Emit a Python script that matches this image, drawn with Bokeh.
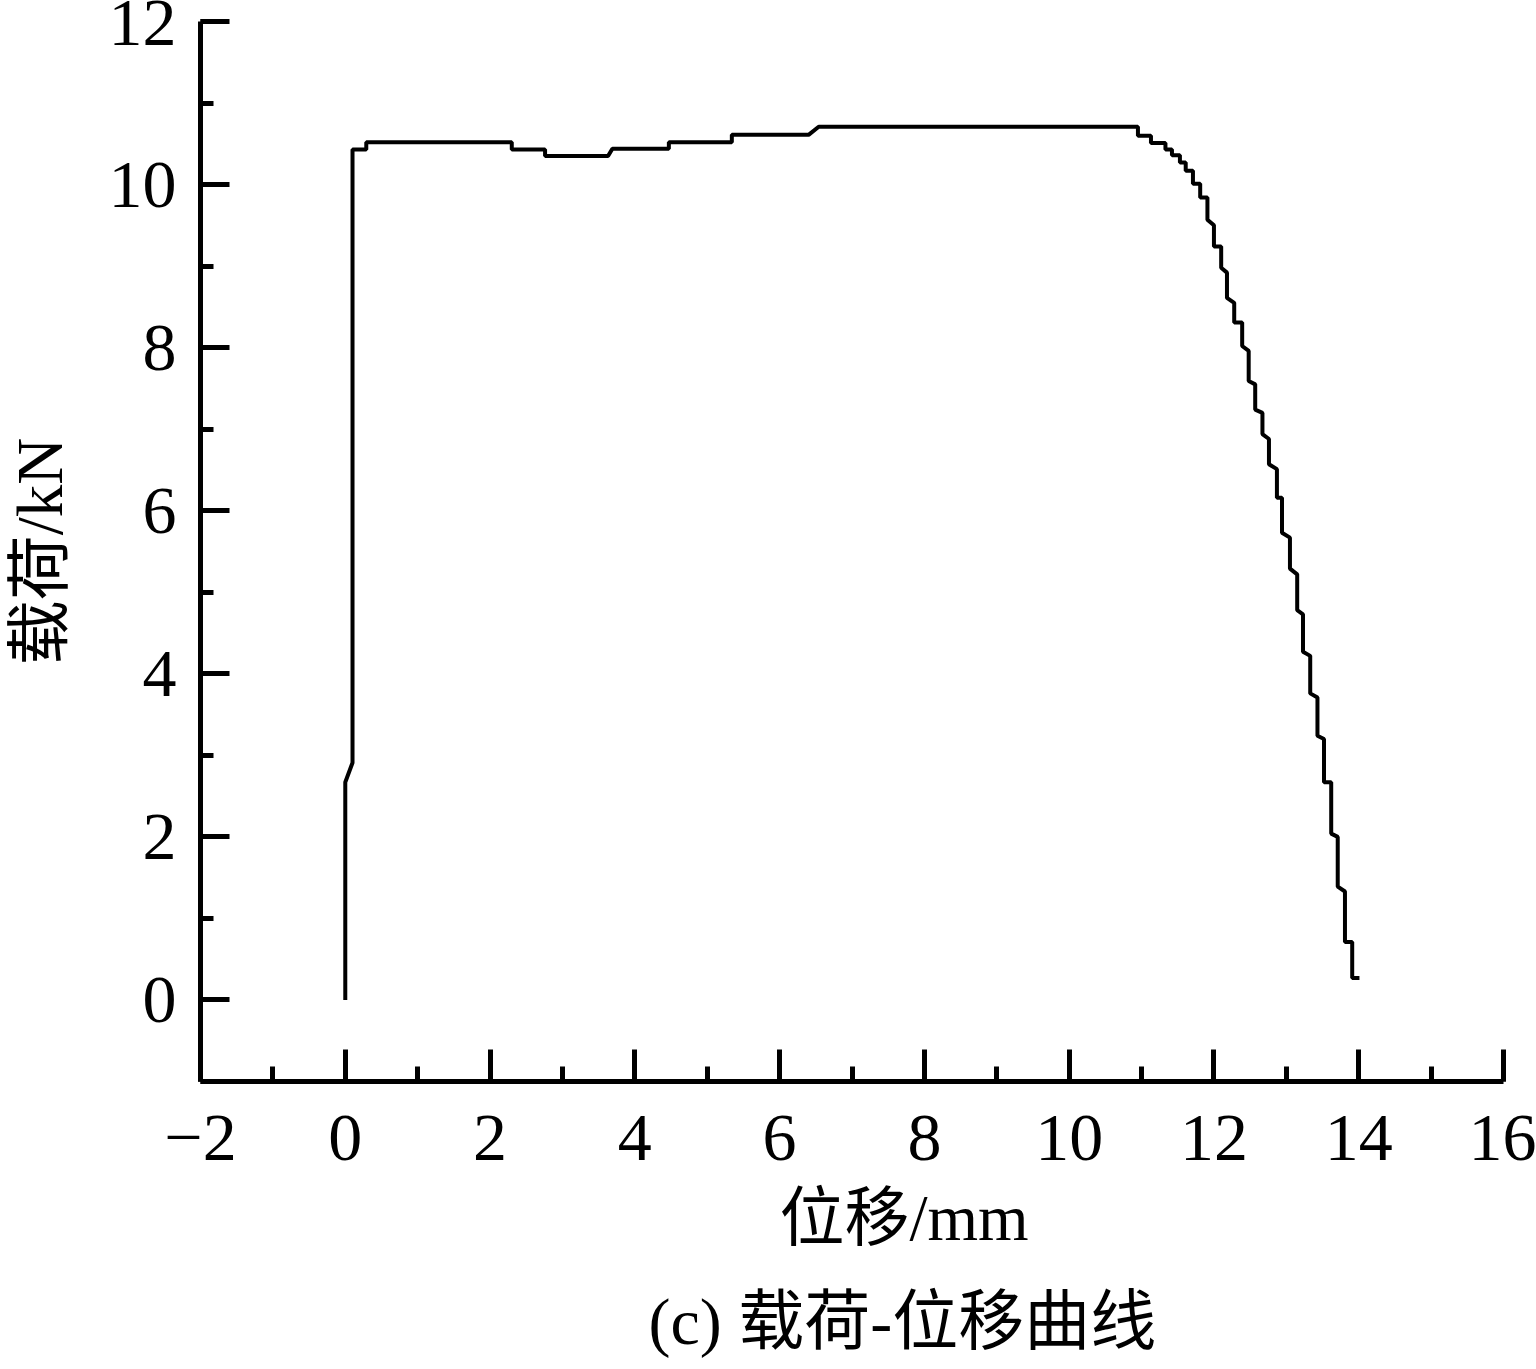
from bokeh.plotting import figure
from bokeh.models import SingleIntervalTicker, Range1d, Title
from bokeh.embed import file_html
from bokeh.resources import INLINE

# displacement (mm) and load (kN)
disp = [0.00, 0.00, 0.10, 0.10, 0.29, 0.29, 2.30, 2.30, 2.76, 2.76,
        3.63, 3.69, 4.47, 4.47, 5.34, 5.34, 6.40, 6.54, 10.95, 10.95,
        11.13, 11.13, 11.33, 11.33, 11.42, 11.42, 11.53, 11.53, 11.61, 11.61,
        11.71, 11.71, 11.81, 11.81, 11.91, 11.91, 12.00, 12.00, 12.10, 12.10,
        12.18, 12.18, 12.28, 12.28, 12.39, 12.39, 12.48, 12.48, 12.57, 12.57,
        12.67, 12.67, 12.76, 12.76, 12.87, 12.87, 12.94, 12.94, 13.05, 13.05,
        13.15, 13.15, 13.23, 13.23, 13.33, 13.33, 13.43, 13.43, 13.52, 13.52,
        13.62, 13.62, 13.71, 13.71, 13.81, 13.81, 13.91, 13.91, 14.01]
load = [0.00, 2.67, 2.91, 10.43, 10.43, 10.52, 10.52, 10.43, 10.43, 10.35,
        10.35, 10.44, 10.44, 10.52, 10.52, 10.61, 10.61, 10.71, 10.71, 10.60,
        10.60, 10.51, 10.51, 10.43, 10.43, 10.36, 10.36, 10.27, 10.27, 10.17,
        10.17, 10.01, 10.01, 9.84, 9.84, 9.57, 9.50, 9.24, 9.24, 8.98,
        8.92, 8.61, 8.55, 8.31, 8.31, 8.02, 7.96, 7.59, 7.55, 7.24,
        7.20, 6.94, 6.88, 6.57, 6.51, 6.16, 6.16, 5.73, 5.67, 5.29,
        5.22, 4.78, 4.73, 4.27, 4.22, 3.76, 3.71, 3.24, 3.20, 2.67,
        2.67, 2.04, 2.00, 1.39, 1.33, 0.71, 0.71, 0.27, 0.27]

x_title = "位移/mm"
y_title = "载荷/kN"
caption = "(c) 载荷-位移曲线"

FONT = "Liberation Serif, Noto Sans CJK SC"

p = figure(width=1536, height=1369,
           x_range=Range1d(-2, 16), y_range=Range1d(-1, 12),
           output_backend="svg", toolbar_location=None,
           min_border_left=199, min_border_right=33,
           min_border_top=21, min_border_bottom=287)

p.line(disp, load, line_color="black", line_width=4)

p.grid.visible = False
p.outline_line_color = None
p.background_fill_color = "white"
p.border_fill_color = "white"

xa = p.xaxis[0]
ya = p.yaxis[0]
xa.ticker = SingleIntervalTicker(interval=2, num_minor_ticks=2)
ya.ticker = SingleIntervalTicker(interval=2, num_minor_ticks=2)

for ax in (xa, ya):
    ax.axis_line_color = "black"
    ax.axis_line_width = 5
    ax.major_tick_line_color = "black"
    ax.major_tick_line_width = 5
    ax.minor_tick_line_color = "black"
    ax.minor_tick_line_width = 5
    ax.major_tick_out = 0
    ax.minor_tick_out = 0
    ax.major_label_text_font = "Liberation Serif"
    ax.major_label_text_font_size = "68px"
    ax.major_label_text_color = "black"

xa.major_tick_in = 32
xa.minor_tick_in = 15
ya.major_tick_in = 29
ya.minor_tick_in = 13
xa.major_label_standoff = 34
ya.major_label_standoff = 24

ya.axis_label = y_title
ya.axis_label_text_font = FONT
ya.axis_label_text_font_size = "65px"
ya.axis_label_text_font_style = "normal"
ya.axis_label_text_color = "black"
ya.axis_label_standoff = 30

p.add_layout(Title(text=x_title, align="left", offset=579,
                   text_font=FONT, text_font_size="65px",
                   text_font_style="normal", text_color="black",
                   standoff=35), "below")
p.add_layout(Title(text=caption, align="left", offset=448,
                   text_font=FONT, text_font_size="66px",
                   text_font_style="normal", text_color="black",
                   standoff=23), "below")

open("out.html", "w").write(file_html(p, INLINE))
